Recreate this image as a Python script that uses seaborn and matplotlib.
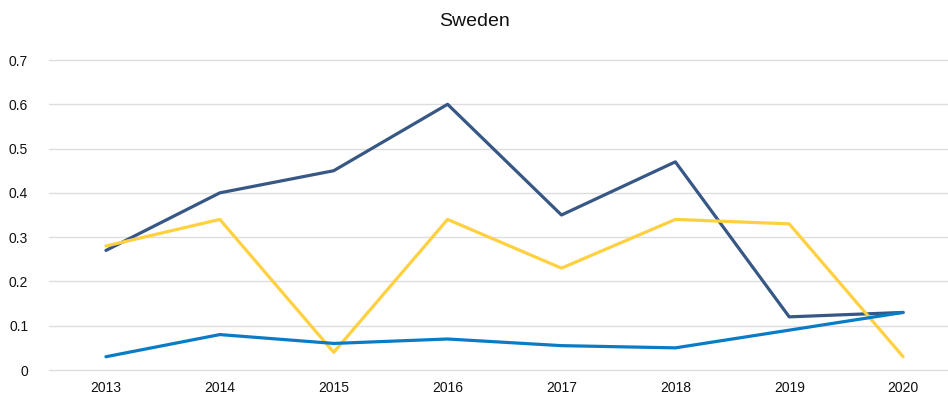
import matplotlib
matplotlib.use("Agg")
import matplotlib.pyplot as plt
import numpy as np
import pandas as pd
import seaborn as sns

years = [2013, 2014, 2015, 2016, 2017, 2018, 2019, 2020]
navy_vals = [0.27, 0.40, 0.45, 0.60, 0.35, 0.47, 0.12, 0.13]
yellow_vals = [0.28, 0.34, 0.04, 0.34, 0.23, 0.34, 0.33, 0.03]
blue_vals = [0.03, 0.08, 0.06, 0.07, 0.055, 0.05, 0.09, 0.13]
series_names = ["Series 1", "Series 2", "Series 3"]
y_ticks = [0, 0.1, 0.2, 0.3, 0.4, 0.5, 0.6, 0.7]
y_tick_labels = ["0", "0.1", "0.2", "0.3", "0.4", "0.5", "0.6", "0.7"]

df = pd.DataFrame({
    "year": years * 3,
    "value": navy_vals + yellow_vals + blue_vals,
    "series": np.repeat(series_names, len(years)),
})

sns.set_style("white")
plt.rcParams["font.family"] = ["Liberation Sans", "DejaVu Sans"]

fig = plt.figure(figsize=(9.48, 4), dpi=100)
# plot area runs past the right edge, as in the reference
ax = fig.add_axes([0.0517, 0.075, 0.961, 0.775])

palette = {"Series 1": "#375784", "Series 2": "#FFD040", "Series 3": "#0A7CC6"}
sns.lineplot(data=df, x="year", y="value", hue="series", palette=palette,
             linewidth=2.3, legend=False, ax=ax, zorder=3)

ax.set_xlim(2012.5, 2020.5)
ax.set_ylim(0, 0.7)
ax.set_yticks(y_ticks)
ax.set_yticklabels(y_tick_labels)
ax.set_xticks(years)
ax.set_xticklabels([str(y) for y in years])
ax.tick_params(axis="both", length=0, labelsize=10, colors="#111111")
ax.tick_params(axis="y", pad=15)
ax.tick_params(axis="x", pad=8)
ax.grid(axis="y", color="#dddddd", linewidth=1)
for gl in ax.get_ygridlines():
    gl.set_clip_on(False)
ax.set_axisbelow(True)
for s in ax.spines.values():
    s.set_visible(False)
ax.set_xlabel("")
ax.set_ylabel("")
fig.text(0.5, 0.947, "Sweden", ha="center", va="center", fontsize=14, color="#111111")

fig.savefig("out.png", dpi=100)
